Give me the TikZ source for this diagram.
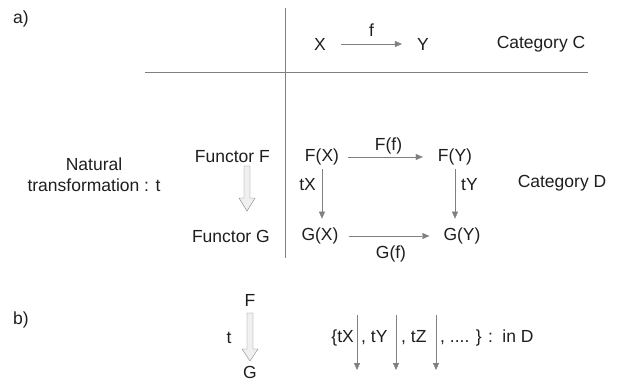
\documentclass[tikz,border=0pt]{standalone}
\usepackage{fontspec}
\setmainfont{Liberation Sans}
\usepackage{tikz}
\usepackage{xcolor}
\usetikzlibrary{arrows.meta}

\definecolor{linegray}{RGB}{128,128,128}
\definecolor{txtgray}{RGB}{30,30,30}

\begin{document}
\begin{tikzpicture}[x=1pt,y=-1pt,
	every node/.style={font=\fontsize{17.5}{21}\selectfont, text=txtgray, inner sep=1pt},
	mor/.style={draw=linegray, -{Triangle[length=7pt,width=6pt]}},
	nat/.style={draw=linegray, fill=gray!12}]
	
	\useasboundingbox (0,0) rectangle (634,385);
	
	% axes
	\draw[linegray] (285,8) -- (285,258);
	\draw[linegray] (145,72) -- (588,72);
	
	\node at (21,19) {a)};
	
	% category C
	\node (X) at (320,44) {X};
	\node (Y) at (423,44) {Y};
	\draw[mor, shorten <=14pt, shorten >=14pt] (X) -- node[above=6pt] {f} (Y);
	\node at (541,44) {Category C};
	
	% category D
	\node (FX) at (322,157) {F(X)};
	\node (FY) at (455,157) {F(Y)};
	\node (GX) at (320,236) {G(X)};
	\node (GY) at (462,236) {G(Y)};
	\draw[mor, shorten <=8pt, shorten >=14pt] (FX) -- node[above=2pt] {F(f)} (FY);
	\draw[mor, shorten <=9pt, shorten >=13pt] (GX) -- node[below=9pt] {G(f)} (GY);
	\draw[mor, shorten <=3pt, shorten >=8pt] (FX) -- node[pos=0.3, left=5pt] {tX} (FX|-GX.north);
	\draw[mor, shorten <=3pt, shorten >=8pt] (FY) -- node[pos=0.3, right=5pt] {tY} (FY|-GY.north);
	\node at (562,183) {Category D};
	
	\node[anchor=east] (fF) at (271,157) {Functor F};
	\node[anchor=east] (fG) at (271,236) {Functor G};
	\node[align=center] (nt) at (94,175) {Natural\\transformation : t};
	\draw[nat] (244,166) -- (250,166) -- (250,198) -- (255,198) -- (247,211)
		-- (239,198) -- (244,198) -- cycle;
	
	% part b
	\node at (21,320) {b)};
	\node (F) at (250,300) {F};
	\node (G) at (250,372) {G};
	\node at (229,338) {t};
	\draw[nat] (247,313) -- (253,313) -- (253,349) -- (258,349) -- (250,361)
		-- (242,349) -- (247,349) -- cycle;
	\foreach \n/\x in {a/357, b/396, c/436}{
		\coordinate (s\n) at (\x,315);
		\coordinate (e\n) at (\x,370);
		\draw[mor] (s\n) -- (e\n);
	}
	\node[anchor=east] (tX) at (355,338) {\{tX};
	\node[anchor=west] (tY) at (360,338) {, tY};
	\node[anchor=west] (tZ) at (400,338) {, tZ};
	\node[anchor=west] (rest) at (439,338) {, .... \} :\, in D};
\end{tikzpicture}
\end{document}
